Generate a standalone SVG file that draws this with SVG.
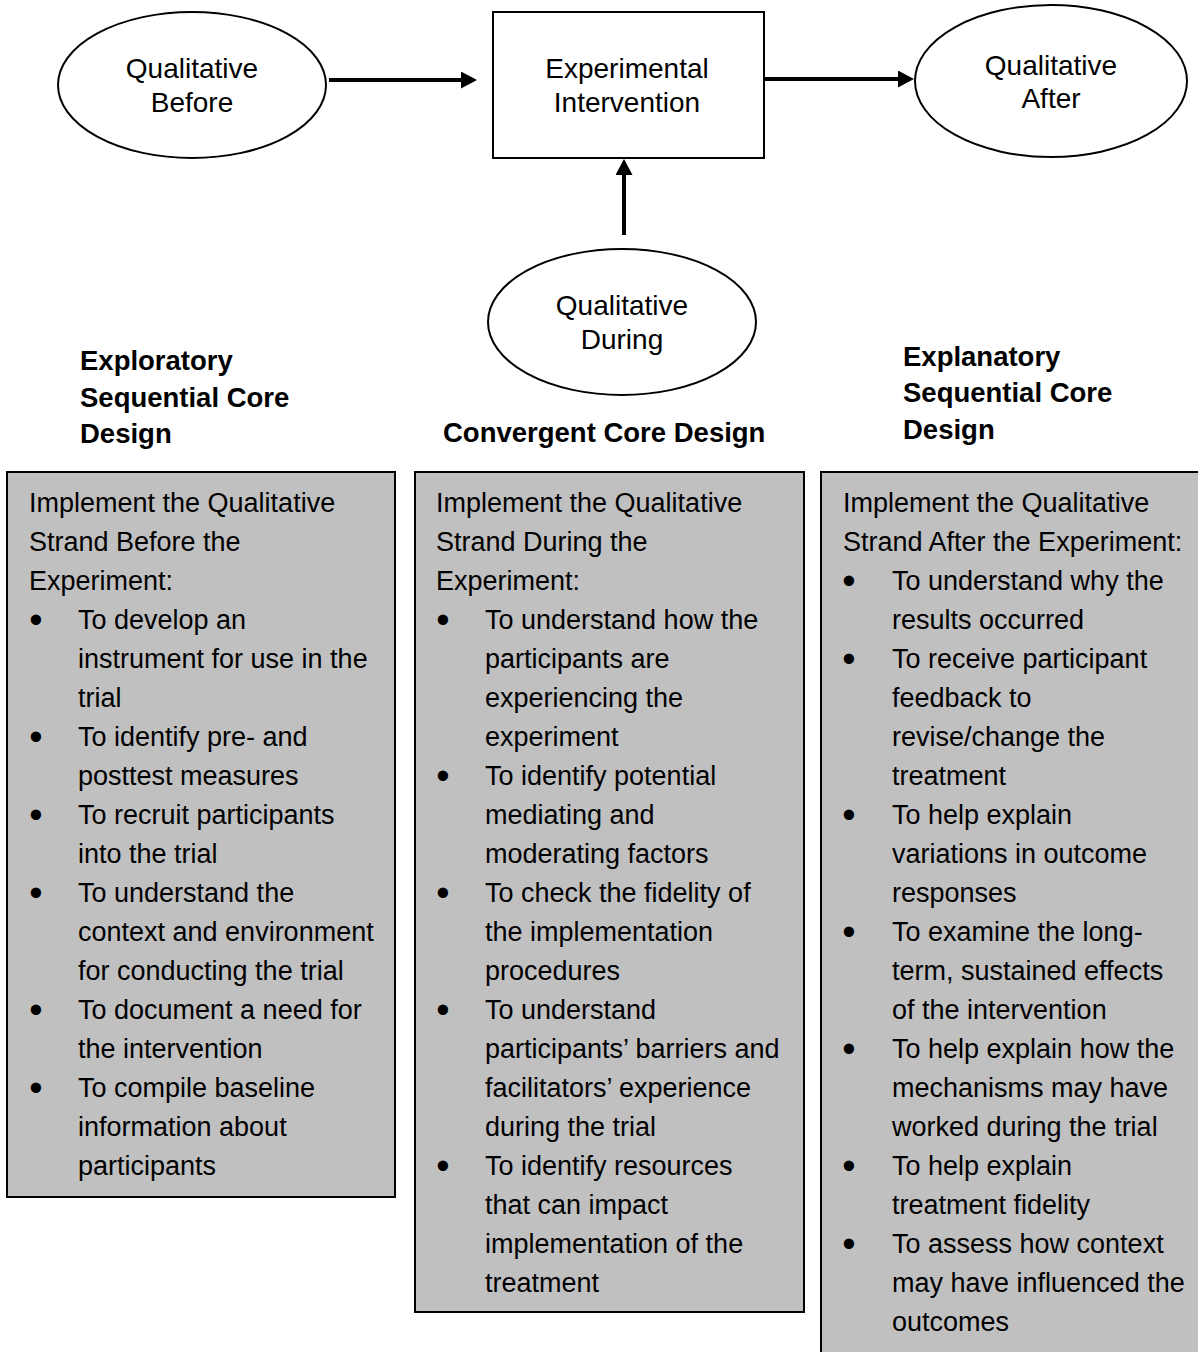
<svg xmlns="http://www.w3.org/2000/svg" width="1198" height="1352" viewBox="0 0 1198 1352">
  <defs>
    <marker id="arrowhead" markerUnits="userSpaceOnUse" markerWidth="16" markerHeight="17" refX="1" refY="8.5" orient="auto">
      <path d="M0,0 L16,8.5 L0,17 Z" fill="#000"/>
    </marker>
    <style>
      .shape { fill: #fff; stroke: #000; stroke-width: 2; }
      .panel { fill: #c0c0c0; stroke: #000; stroke-width: 2; }
      .label { font-family: "Liberation Sans", Arial, sans-serif; font-size: 28px; fill: #000; text-anchor: middle; }
      .heading { font-family: "Liberation Sans", Arial, sans-serif; font-size: 27.5px; font-weight: bold; fill: #000; }
      .body { font-family: "Liberation Sans", Arial, sans-serif; font-size: 27px; fill: #000; }
      .dot { font-family: "Liberation Sans", Arial, sans-serif; font-size: 38px; fill: #000; text-anchor: middle; }
      .conn { stroke: #000; stroke-width: 4; fill: none; marker-end: url(#arrowhead); }
    </style>
  </defs>
  <rect width="1198" height="1352" fill="#fff"/>

  <!-- top row: intervention and the three qualitative strands -->
  <g id="qual-before">
    <ellipse class="shape" cx="192" cy="85" rx="134" ry="73"/>
    <text class="label" x="192" y="78">Qualitative</text>
    <text class="label" x="192" y="112">Before</text>
  </g>
  <g id="intervention">
    <rect class="shape" x="493" y="12" width="271" height="146"/>
    <text class="label" x="627" y="78">Experimental</text>
    <text class="label" x="627" y="112">Intervention</text>
  </g>
  <g id="qual-after">
    <ellipse class="shape" cx="1051" cy="81" rx="136" ry="76"/>
    <text class="label" x="1051" y="75">Qualitative</text>
    <text class="label" x="1051" y="108">After</text>
  </g>
  <g id="qual-during">
    <ellipse class="shape" cx="622" cy="322" rx="134" ry="73"/>
    <text class="label" x="622" y="315">Qualitative</text>
    <text class="label" x="622" y="349">During</text>
  </g>

  <g id="connectors">
    <line class="conn" x1="329" y1="80" x2="462" y2="80"/>
    <line class="conn" x1="764" y1="79" x2="899" y2="79"/>
    <line class="conn" x1="624" y1="235" x2="624" y2="174"/>
  </g>

  <!-- design headings -->
  <g id="heading-exploratory">
    <text class="heading" x="80" y="370">Exploratory</text>
    <text class="heading" x="80" y="407">Sequential Core</text>
    <text class="heading" x="80" y="443">Design</text>
  </g>
  <g id="heading-convergent">
    <text class="heading" x="443" y="442">Convergent Core Design</text>
  </g>
  <g id="heading-explanatory">
    <text class="heading" x="903" y="366">Explanatory</text>
    <text class="heading" x="903" y="402">Sequential Core</text>
    <text class="heading" x="903" y="439">Design</text>
  </g>

  <!-- left panel: strand before the experiment -->
  <g id="panel-before">
    <rect class="panel" x="7" y="472" width="388" height="725"/>
    <text class="body" x="29" y="512">Implement the Qualitative</text>
    <text class="body" x="29" y="551">Strand Before the</text>
    <text class="body" x="29" y="590">Experiment:</text>
    <text class="dot" x="36" y="633">•</text><text class="dot" x="36" y="750">•</text><text class="dot" x="36" y="828">•</text><text class="dot" x="36" y="906">•</text><text class="dot" x="36" y="1023">•</text><text class="dot" x="36" y="1101">•</text>
    <text class="body" x="78" y="629">To develop an</text>
    <text class="body" x="78" y="668">instrument for use in the</text>
    <text class="body" x="78" y="707">trial</text>
    <text class="body" x="78" y="746">To identify pre- and</text>
    <text class="body" x="78" y="785">posttest measures</text>
    <text class="body" x="78" y="824">To recruit participants</text>
    <text class="body" x="78" y="863">into the trial</text>
    <text class="body" x="78" y="902">To understand the</text>
    <text class="body" x="78" y="941">context and environment</text>
    <text class="body" x="78" y="980">for conducting the trial</text>
    <text class="body" x="78" y="1019">To document a need for</text>
    <text class="body" x="78" y="1058">the intervention</text>
    <text class="body" x="78" y="1097">To compile baseline</text>
    <text class="body" x="78" y="1136">information about</text>
    <text class="body" x="78" y="1175">participants</text>
  </g>

  <!-- middle panel: strand during the experiment -->
  <g id="panel-during">
    <rect class="panel" x="415" y="472" width="389" height="840"/>
    <text class="body" x="436" y="512">Implement the Qualitative</text>
    <text class="body" x="436" y="551">Strand During the</text>
    <text class="body" x="436" y="590">Experiment:</text>
    <text class="dot" x="443" y="633">•</text><text class="dot" x="443" y="789">•</text><text class="dot" x="443" y="906">•</text><text class="dot" x="443" y="1023">•</text><text class="dot" x="443" y="1179">•</text>
    <text class="body" x="485" y="629">To understand how the</text>
    <text class="body" x="485" y="668">participants are</text>
    <text class="body" x="485" y="707">experiencing the</text>
    <text class="body" x="485" y="746">experiment</text>
    <text class="body" x="485" y="785">To identify potential</text>
    <text class="body" x="485" y="824">mediating and</text>
    <text class="body" x="485" y="863">moderating factors</text>
    <text class="body" x="485" y="902">To check the fidelity of</text>
    <text class="body" x="485" y="941">the implementation</text>
    <text class="body" x="485" y="980">procedures</text>
    <text class="body" x="485" y="1019">To understand</text>
    <text class="body" x="485" y="1058">participants’ barriers and</text>
    <text class="body" x="485" y="1097">facilitators’ experience</text>
    <text class="body" x="485" y="1136">during the trial</text>
    <text class="body" x="485" y="1175">To identify resources</text>
    <text class="body" x="485" y="1214">that can impact</text>
    <text class="body" x="485" y="1253">implementation of the</text>
    <text class="body" x="485" y="1292">treatment</text>
  </g>

  <!-- right panel: strand after the experiment -->
  <g id="panel-after">
    <rect class="panel" x="821" y="472" width="390" height="900"/>
    <text class="body" x="843" y="512">Implement the Qualitative</text>
    <text class="body" x="843" y="551">Strand After the Experiment:</text>
    <text class="dot" x="849" y="594">•</text><text class="dot" x="849" y="672">•</text><text class="dot" x="849" y="828">•</text><text class="dot" x="849" y="945">•</text><text class="dot" x="849" y="1062">•</text><text class="dot" x="849" y="1179">•</text><text class="dot" x="849" y="1257">•</text>
    <text class="body" x="892" y="590">To understand why the</text>
    <text class="body" x="892" y="629">results occurred</text>
    <text class="body" x="892" y="668">To receive participant</text>
    <text class="body" x="892" y="707">feedback to</text>
    <text class="body" x="892" y="746">revise/change the</text>
    <text class="body" x="892" y="785">treatment</text>
    <text class="body" x="892" y="824">To help explain</text>
    <text class="body" x="892" y="863">variations in outcome</text>
    <text class="body" x="892" y="902">responses</text>
    <text class="body" x="892" y="941">To examine the long-</text>
    <text class="body" x="892" y="980">term, sustained effects</text>
    <text class="body" x="892" y="1019">of the intervention</text>
    <text class="body" x="892" y="1058">To help explain how the</text>
    <text class="body" x="892" y="1097">mechanisms may have</text>
    <text class="body" x="892" y="1136">worked during the trial</text>
    <text class="body" x="892" y="1175">To help explain</text>
    <text class="body" x="892" y="1214">treatment fidelity</text>
    <text class="body" x="892" y="1253">To assess how context</text>
    <text class="body" x="892" y="1292">may have influenced the</text>
    <text class="body" x="892" y="1331">outcomes</text>
  </g>
</svg>
